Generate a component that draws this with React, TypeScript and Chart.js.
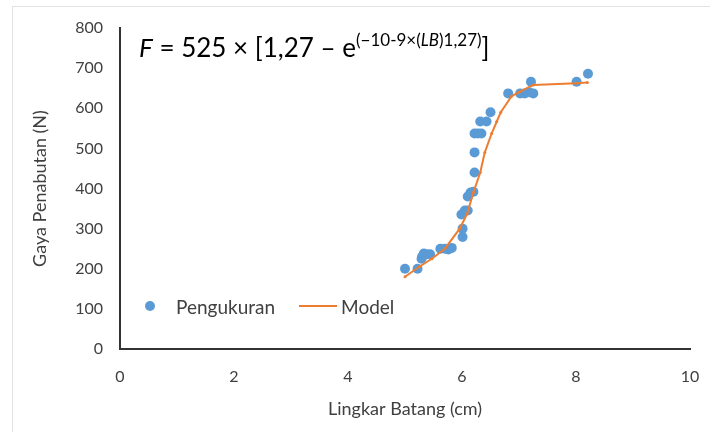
import React, { useEffect, useRef } from "react";
import { Chart, registerables } from "chart.js";

Chart.register(...registerables);

const measX = [5.0, 5.22, 5.29, 5.33, 5.38, 5.44, 5.3, 5.62, 5.7, 5.76, 5.82, 6.01, 6.01, 5.99, 6.05, 6.1, 6.1, 6.15, 6.2, 6.22, 6.22, 6.22, 6.28, 6.34, 6.32, 6.43, 6.5, 6.81, 7.02, 7.1, 7.18, 7.25, 7.21, 8.01, 8.21];
const measY = [200, 200, 225, 238, 236, 236, 230, 250, 250, 248, 252, 300, 279, 335, 345, 345, 380, 390, 392, 440, 490, 537, 537, 537, 567, 567, 590, 637, 637, 637, 640, 637, 666, 666, 686];

const modelX = [5.0, 5.25, 5.47, 5.7, 5.96, 6.09, 6.2, 6.32, 6.4, 6.52, 6.61, 6.68, 6.87, 7.0, 7.25, 8.0, 8.2];
const modelY = [180, 205, 225, 250, 300, 337, 390, 440, 490, 537, 567, 590, 630, 640, 658, 662, 664];

const xTicks = [0, 2, 4, 6, 8, 10];
const yTicks = [0, 100, 200, 300, 400, 500, 600, 700, 800];

const xTitle = "Lingkar Batang (cm)";
const yTitle = "Gaya Penabutan (N)";
const seriesNames = ["Pengukuran", "Model"];

const BLUE = "#5B9BD5";
const ORANGE = "#ED7D31";
const FONT = "Lato, 'Open Sans', sans-serif";

export default function App() {
  const ref = useRef<HTMLCanvasElement>(null);

  useEffect(() => {
    if (!ref.current) return;
    const chart = new Chart(ref.current, {
      type: "scatter",
      data: {
        datasets: [
          {
            label: seriesNames[0],
            data: measX.map((x, i) => ({ x, y: measY[i] })),
            backgroundColor: BLUE,
            borderColor: BLUE,
            pointRadius: 5,
            pointBorderWidth: 0,
            showLine: false,
            order: 1,
          },
          {
            label: seriesNames[1],
            data: modelX.map((x, i) => ({ x, y: modelY[i] })),
            borderColor: ORANGE,
            backgroundColor: ORANGE,
            borderWidth: 2,
            pointRadius: 1.5,
            pointBorderWidth: 0,
            showLine: true,
            order: 0,
          },
        ],
      },
      options: {
        animation: false,
        responsive: false,
        maintainAspectRatio: false,
        layout: { padding: { left: 0, right: 20, top: 28, bottom: 10 } },
        plugins: {
          legend: { display: false },
          tooltip: { enabled: false },
        },
        scales: {
          x: {
            type: "linear",
            min: 0,
            max: 10,
            afterBuildTicks: (s: any) => {
              s.ticks = xTicks.map((v) => ({ value: v }));
            },
            afterFit: (s: any) => {
              s.height = 73;
              s.paddingLeft = 0;
              s.paddingRight = 0;
            },
            grid: { display: false, drawTicks: false },
            border: { display: true, color: "#333333", width: 2 },
            ticks: {
              padding: 18,
              color: "#404040",
              font: { family: FONT, size: 16 },
            },
            title: {
              display: true,
              text: xTitle,
              color: "#404040",
              font: { family: FONT, size: 18 },
              padding: { top: 0, bottom: 2 },
            },
          },
          y: {
            type: "linear",
            min: 0,
            max: 800,
            afterBuildTicks: (s: any) => {
              s.ticks = yTicks.map((v) => ({ value: v }));
            },
            afterFit: (s: any) => {
              s.width = 120;
            },
            grid: { display: false, drawTicks: false },
            border: { display: true, color: "#333333", width: 2 },
            ticks: {
              padding: 17,
              color: "#404040",
              font: { family: FONT, size: 16 },
            },
            title: {
              display: true,
              text: yTitle,
              color: "#404040",
              font: { family: FONT, size: 18 },
              padding: { top: 29, bottom: 0 },
            },
          },
        },
      },
    });
    return () => chart.destroy();
  }, []);

  return (
    <div style={{ position: "absolute", left: 0, top: 0, width: 710, height: 432, background: "#fff", overflow: "hidden" }}>
      <div style={{ position: "absolute", left: 12, top: 6, width: 710, height: 440, borderLeft: "1px solid #e2e2e2", borderTop: "1px solid #e2e2e2" }} />
      <canvas ref={ref} width={710} height={432} style={{ position: "absolute", left: 0, top: 0 }} />
      <div
        style={{
          position: "absolute",
          left: 139,
          top: 23,
          fontFamily: FONT,
          fontSize: 26,
          color: "#000",
          whiteSpace: "nowrap",
          lineHeight: "34px",
        }}
      >
        <i>F</i> = 525 × [1,27 – e
        <sup style={{ fontSize: 17, verticalAlign: "11px" }}>
          (−10-9×(<i>LB</i>)1,27)
        </sup>
        ]
      </div>
      <div
        style={{
          position: "absolute",
          left: 145,
          top: 296,
          fontFamily: FONT,
          fontSize: 19,
          color: "#404040",
          whiteSpace: "nowrap",
          display: "flex",
          alignItems: "center",
          height: 20,
        }}
      >
        <span style={{ display: "inline-block", width: 10, height: 10, borderRadius: 5, background: BLUE, marginRight: 21 }} />
        <span>{seriesNames[0]}</span>
        <span style={{ display: "inline-block", width: 38, height: 2, background: ORANGE, marginLeft: 24, marginRight: 4 }} />
        <span>{seriesNames[1]}</span>
      </div>
    </div>
  );
}
